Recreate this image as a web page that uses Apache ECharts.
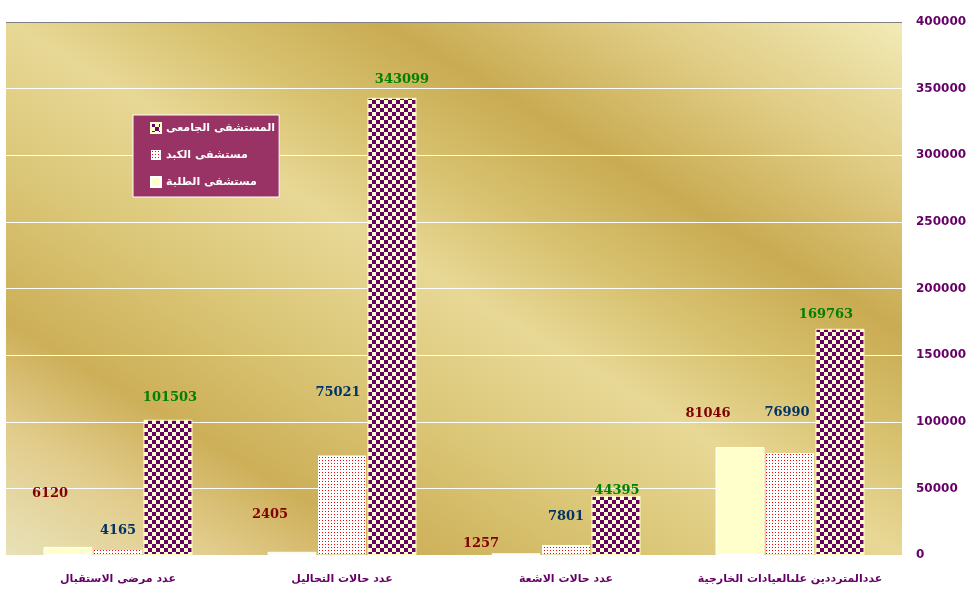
<!DOCTYPE html>
<html>
<head>
<meta charset="utf-8">
<script src="https://cdn.jsdelivr.net/npm/echarts@6/dist/echarts.min.js"></script>
<style>
  html, body { margin: 0; padding: 0; background: #fff; }
  #chart { width: 977px; height: 600px; }
</style>
</head>
<body>
<div id="chart"></div>
<script>
// categories & values
const categories = ['عدد مرضى الاستقبال', 'عدد حالات التحاليل', 'عدد حالات الاشعة', 'عددالمترددين علىالعيادات الخارجية']
const seriesNames = ['مستشفى الطلبة', 'مستشفى الكبد', 'المستشفى الجامعى']
const talabaValues = [6120, 2405, 1257, 81046]
const kabdValues = [4165, 75021, 7801, 76990]
const gamaiValues = [101503, 343099, 44395, 169763]
const yMin = 0
const yMax = 400000
const yStep = 50000

// label nudges [dx, dy] - the original labels are placed a bit irregularly
const talabaLabelShift = [[-18, -42], [-22, -26], [-35, 2], [-32, -22]]
const kabdLabelShift = [[0, -7], [-4, -51], [0, -16], [-3, -28]]
const gamaiLabelShift = [[2, -11], [10, -7], [1, 6], [-14, -3]]

// fill patterns
function makeTile(size, draw) {
  const c = document.createElement('canvas')
  c.width = size
  c.height = size
  draw(c.getContext('2d'))
  return c
}
const checkerTile = makeTile(8, ctx => {
  ctx.fillStyle = '#ffffcc'
  ctx.fillRect(0, 0, 8, 8)
  ctx.fillStyle = '#660066'
  ctx.fillRect(0, 0, 4, 4)
  ctx.fillRect(4, 4, 4, 4)
})
const dotTile = makeTile(3, ctx => {
  ctx.fillStyle = '#ffffff'
  ctx.fillRect(0, 0, 3, 3)
  ctx.fillStyle = '#ff0000'
  ctx.fillRect(1, 1, 1, 1)
})

const labelFont = { fontFamily: 'DejaVu Serif', fontWeight: 'bold', fontSize: 13 }

function barSeries(name, values, shifts, fill, border, labelColor) {
  return {
    name,
    type: 'bar',
    barWidth: 49,
    barGap: '2%',
    data: values.map((v, i) => ({ value: v, label: { offset: shifts[i] } })),
    itemStyle: { color: fill, borderColor: border, borderWidth: 1 },
    label: { show: true, position: 'top', distance: 5, color: labelColor, ...labelFont }
  }
}

const chart = echarts.init(document.getElementById('chart'))
chart.setOption({
  animation: false,
  grid: {
    left: 6, right: 75, top: 22, bottom: 45,
    show: true,
    borderWidth: 0,
    backgroundColor: {
      type: 'linear', global: true,
      x: 220, y: 682, x2: 688, y2: -105,
      colorStops: [
        { offset: 0, color: '#e8e2b8' },
        { offset: 0.12, color: '#e2cc8c' },
        { offset: 0.22, color: '#cdaf58' },
        { offset: 0.36, color: '#dac676' },
        { offset: 0.5, color: '#e8d896' },
        { offset: 0.6, color: '#d8c270' },
        { offset: 0.71, color: '#c9ab52' },
        { offset: 0.85, color: '#e0cc84' },
        { offset: 1, color: '#f2eab6' }
      ]
    }
  },
  legend: {
    data: [seriesNames[2], seriesNames[1], seriesNames[0]],
    orient: 'vertical',
    left: 133,
    top: 115,
    backgroundColor: '#993366',
    borderColor: '#ffffff',
    borderWidth: 1,
    borderRadius: 0,
    padding: [6, 4, 8, 17],
    itemWidth: 10,
    itemHeight: 10,
    itemGap: 13,
    icon: 'rect',
    selectedMode: false,
    textStyle: { color: '#ffffff', fontFamily: 'DejaVu Sans', fontWeight: 'bold', fontSize: 11, lineHeight: 14 }
  },
  xAxis: {
    type: 'category',
    data: categories,
    axisLine: { show: false },
    axisTick: { show: false },
    axisLabel: { interval: 0, margin: 19, color: '#660066', fontFamily: 'DejaVu Sans', fontWeight: 'bold', fontSize: 11 }
  },
  yAxis: {
    type: 'value',
    position: 'right',
    min: yMin,
    max: yMax,
    interval: yStep,
    axisLine: { show: false },
    axisTick: { show: false },
    axisLabel: {
      margin: 14, color: '#660066', fontFamily: 'DejaVu Sans', fontWeight: 'bold', fontSize: 12,
      formatter: v => String(v)
    },
    splitLine: {
      lineStyle: { color: ['#ffffff', '#ffffff', '#ffffff', '#ffffff', '#ffffff', '#ffffff', '#ffffff', '#ffffff', '#808080'], width: 1 }
    }
  },
  series: [
    barSeries(seriesNames[0], talabaValues, talabaLabelShift, '#ffffcc', '#ffffff', '#800000'),
    barSeries(seriesNames[1], kabdValues, kabdLabelShift, { image: dotTile, repeat: 'repeat' }, 'rgba(255,255,255,0)', '#003366'),
    barSeries(seriesNames[2], gamaiValues, gamaiLabelShift, { image: checkerTile, repeat: 'repeat' }, '#ffffcc', '#008000')
  ]
})

window.addEventListener('resize', () => chart.resize())
</script>
</body>
</html>
